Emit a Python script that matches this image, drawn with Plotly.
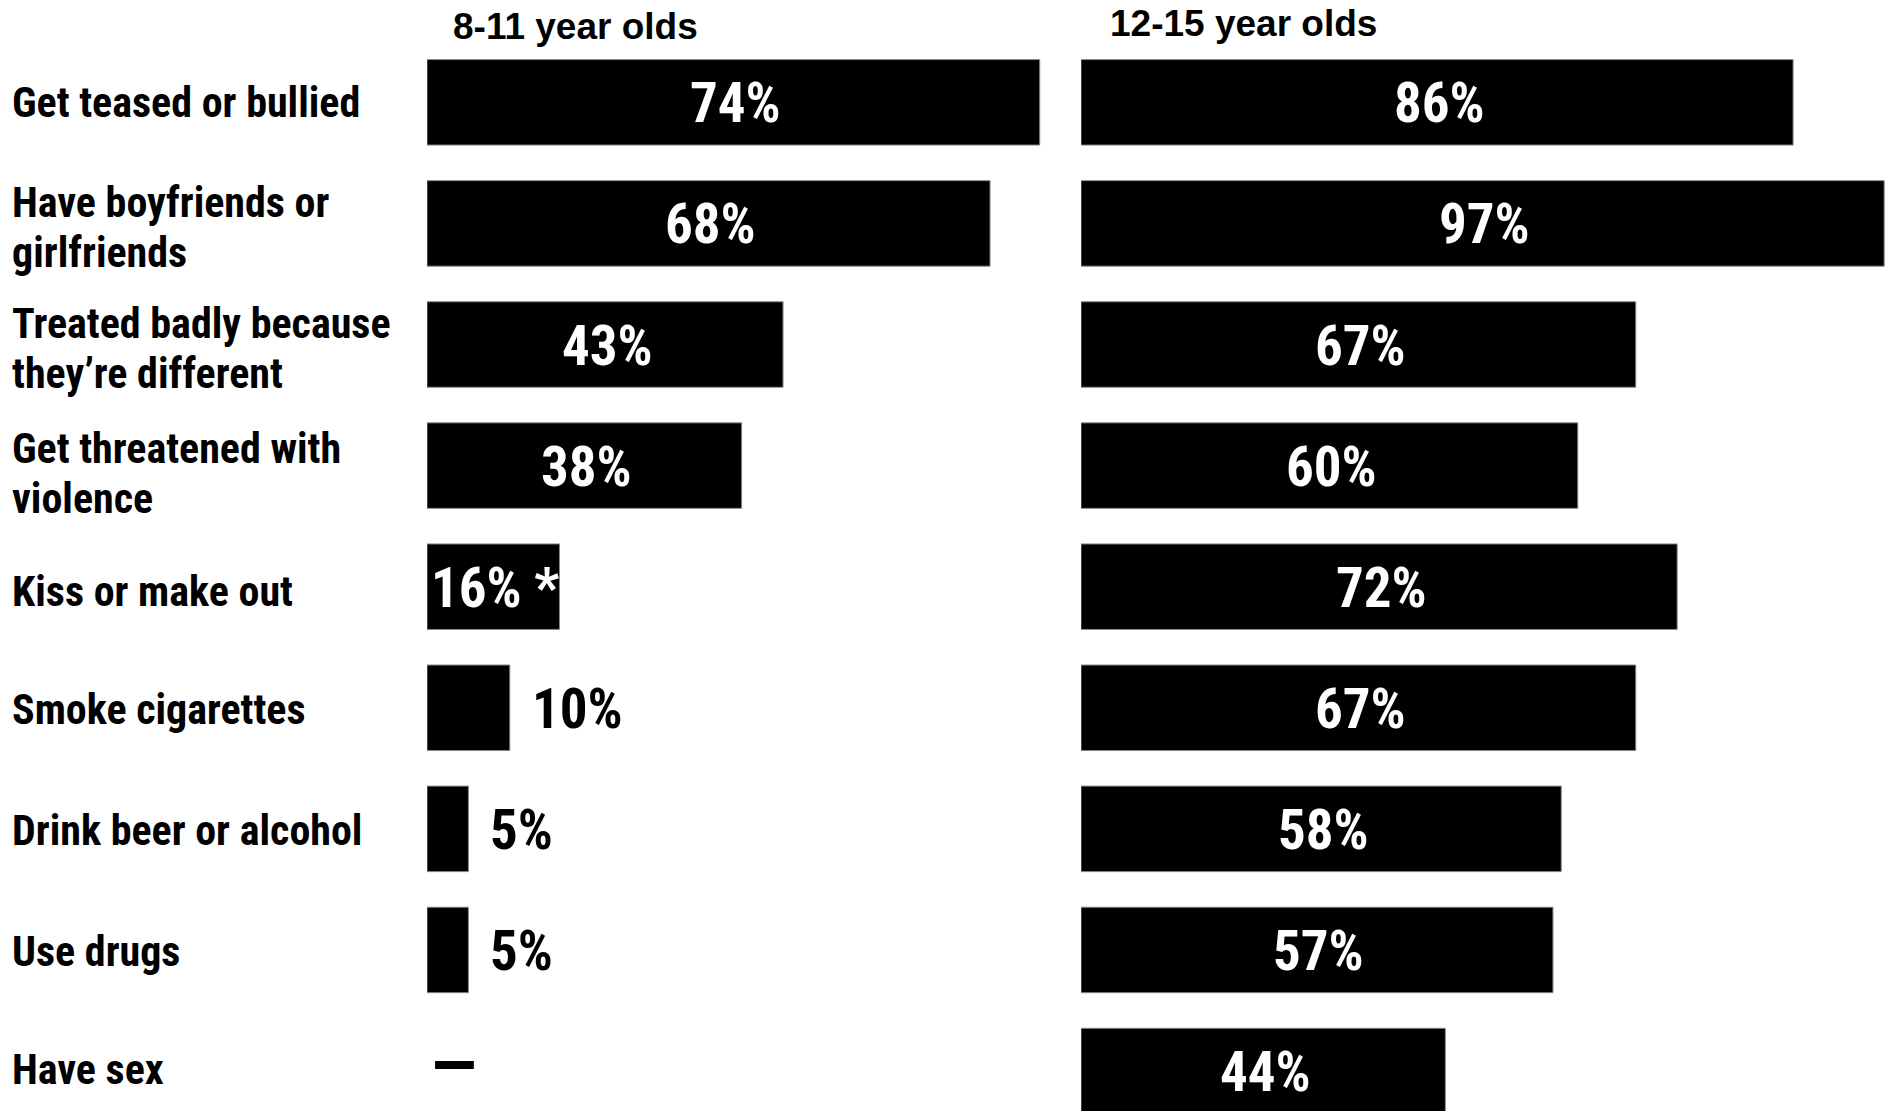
import plotly.graph_objects as go

categories = [
    "Get teased or bullied",
    "Have boyfriends or<br>girlfriends",
    "Treated badly because<br>they’re different",
    "Get threatened with<br>violence",
    "Kiss or make out",
    "Smoke cigarettes",
    "Drink beer or alcohol",
    "Use drugs",
    "Have sex",
]
group_titles = ["8-11 year olds", "12-15 year olds"]
values_8_11 = [74, 68, 43, 38, 16, 10, 5, 5, None]
labels_8_11 = ["74%", "68%", "43%", "38%", "16% *", "10%", "5%", "5%", "—"]
values_12_15 = [86, 97, 67, 60, 72, 67, 58, 57, 44]
labels_12_15 = ["86%", "97%", "67%", "60%", "72%", "67%", "58%", "57%", "44%"]

# vertical fine-tuning of the category text lines (pixels, positive = up)
label_line_shifts = [[0], [21, -29], [21, -29], [17, -33], [-5], [-2], [-2], [-2], [2]]

W, H = 1887, 1111
NARROW = "Roboto Condensed, Open Sans Condensed, sans-serif"
ARIAL = "Liberation Sans, Arial, sans-serif"

rows = list(range(len(categories)))
px_per_pct = 8.28
left0, right0 = 427, 1081
left_end = 1075

fig = go.Figure()
fig.add_trace(go.Bar(
    x=values_8_11, y=rows, orientation="h", xaxis="x", yaxis="y",
    marker=dict(color="black", line=dict(color="#888888", width=1)),
    width=0.706, hoverinfo="skip",
))
fig.add_trace(go.Bar(
    x=values_12_15, y=rows, orientation="h", xaxis="x2", yaxis="y",
    marker=dict(color="black", line=dict(color="#888888", width=1)),
    width=0.706, hoverinfo="skip",
))

annotations = []
val_font_in = dict(family=NARROW, size=55, color="white", weight="bold")
val_font_out = dict(family=NARROW, size=55, color="black", weight="bold")
dash_font = dict(family=NARROW, size=68, color="black", weight="bold")

def add_labels(vals, labs, xref):
    for r, v, t in zip(rows, vals, labs):
        if v is None:
            annotations.append(dict(x=0, y=r, xref=xref, yref="y", text=t, showarrow=False,
                                    xanchor="left", yanchor="middle", xshift=2, yshift=5,
                                    font=dash_font))
        elif v >= 15:
            annotations.append(dict(x=v / 2, y=r, xref=xref, yref="y", text=t, showarrow=False,
                                    xanchor="center", yanchor="middle", xshift=2, yshift=-1,
                                    font=val_font_in))
        else:
            annotations.append(dict(x=v, y=r, xref=xref, yref="y", text=t, showarrow=False,
                                    xanchor="left", yanchor="middle", xshift=20, yshift=-1,
                                    font=val_font_out))

add_labels(values_8_11, labels_8_11, "x")
add_labels(values_12_15, labels_12_15, "x2")

for r, c, shifts in zip(rows, categories, label_line_shifts):
    for line, ys in zip(c.split("<br>"), shifts):
        annotations.append(dict(x=10 / W, y=r, xref="paper", yref="y", text=line, showarrow=False,
                                xanchor="left", yanchor="middle", align="left", yshift=ys,
                                font=dict(family=NARROW, size=42, color="black", weight="bold")))

annotations.append(dict(x=451 / W, y=1 - 26 / H, xref="paper", yref="paper", text=group_titles[0],
                        showarrow=False, xanchor="left", yanchor="middle",
                        font=dict(family=ARIAL, size=37, color="black", weight="bold")))
annotations.append(dict(x=1108 / W, y=1 - 24 / H, xref="paper", yref="paper", text=group_titles[1],
                        showarrow=False, xanchor="left", yanchor="middle",
                        font=dict(family=ARIAL, size=37, color="black", weight="bold")))

fig.update_layout(
    width=W, height=H,
    margin=dict(l=0, r=0, t=0, b=0),
    paper_bgcolor="white", plot_bgcolor="white",
    showlegend=False,
    xaxis=dict(domain=[left0 / W, left_end / W], range=[0, (left_end - left0) / px_per_pct],
               visible=False, fixedrange=True),
    xaxis2=dict(domain=[right0 / W, 1], range=[0, (W - right0) / px_per_pct],
                visible=False, fixedrange=True),
    yaxis=dict(range=[8.33, -0.845], visible=False, fixedrange=True),
    annotations=annotations,
)

fig.write_html("out.html")
